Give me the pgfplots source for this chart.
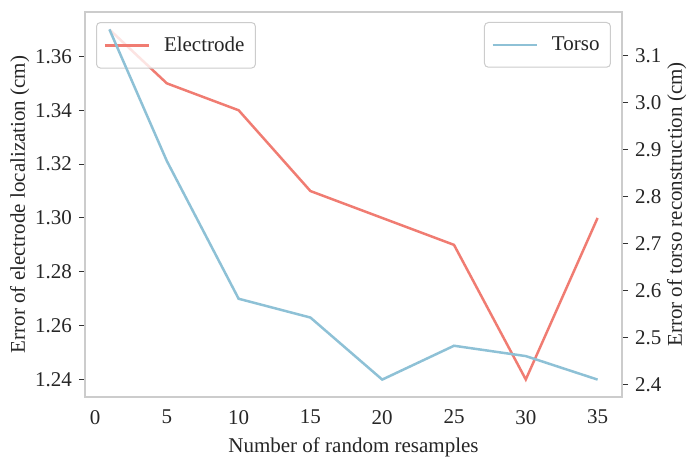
\documentclass[border=0pt]{standalone}
\usepackage{pgfplots}
\pgfplotsset{compat=1.18}
\usepackage{fontspec}
\setmainfont{Liberation Serif}

\definecolor{elec}{HTML}{F07C72}
\definecolor{torso}{HTML}{8EC1D6}
\definecolor{framegray}{HTML}{CCCCCC}
\definecolor{tickgray}{HTML}{333333}

\pgfplotsset{
	common/.style={
		width=268.5pt, height=192.5pt, scale only axis,
		xmin=-0.7, xmax=36.7,
		axis line style={framegray, line width=0.6pt},
		tick style={tickgray, line width=0.5pt},
		major tick length=3pt,
		tick align=outside,
		font=\fontsize{10.5}{12}\selectfont,
		ticklabel style={font=\fontsize{10.5}{12}\selectfont, text=black!85},
		label style={font=\fontsize{10.5}{12}\selectfont, text=black!85},
		ylabel shift=-4pt,
		/pgf/number format/assume math mode=true,
		legend cell align=left,
		legend image code/.code={\draw[#1] (0pt,0pt) -- (22pt,0pt); \path (27pt,0pt);},
		legend style={draw=framegray, line width=0.5pt, rounded corners=2pt,
			fill=white, fill opacity=0.8, text opacity=1,
			inner xsep=3.5pt, inner ysep=5pt,
			font=\fontsize{10.5}{12}\selectfont, text=black!85},
	}
}

\begin{document}
\begin{tikzpicture}
	% left axis: electrode localization
	\begin{axis}[
		common, name=ax,
		ymin=1.2335, ymax=1.3765,
		ytick={1.24,1.26,1.28,1.30,1.32,1.34,1.36},
		yticklabel style={/pgf/number format/.cd, fixed, fixed zerofill, precision=2},
		xtick={0,5,10,15,20,25,30,35},
		xtick pos=bottom, ytick pos=left,
		xtick style={draw=none},
		xlabel={Number of random resamples},
		ylabel={Error of electrode localization (cm)},
		legend style={at={(0.0205,0.974)}, anchor=north west},
		]
		\addplot[elec, line width=1.25pt] coordinates {
			(1,1.37) (5,1.35) (10,1.34) (15,1.31) (20,1.30) (25,1.29) (30,1.24) (35,1.30)
		};
		\addlegendentry{Electrode}
	\end{axis}
	% right axis: torso reconstruction
	\begin{axis}[
		common,
		axis x line=none, axis y line*=right,
		ymin=2.373, ymax=3.192,
		ytick={2.4,2.5,2.6,2.7,2.8,2.9,3.0,3.1},
		yticklabel style={/pgf/number format/.cd, fixed, fixed zerofill, precision=1},
		ytick pos=right,
		ylabel={Error of torso reconstruction (cm)},
		legend style={at={(0.9795,0.974)}, anchor=north east},
		]
		\addplot[torso, line width=1.25pt] coordinates {
			(1,3.155) (5,2.875) (10,2.582) (15,2.542) (20,2.41) (25,2.482) (30,2.46) (35,2.41)
		};
		\addlegendentry{Torso}
	\end{axis}
	\pgfresetboundingbox
	\path ([shift={(-42.5pt,-34pt)}]ax.south west) rectangle ([shift={(37.5pt,6pt)}]ax.north east);
\end{tikzpicture}
\end{document}
